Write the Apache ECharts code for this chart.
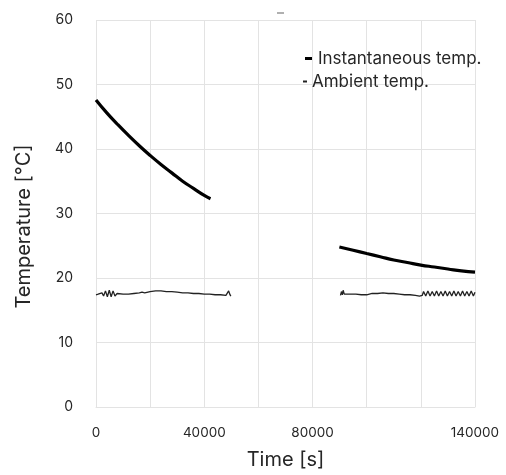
<!DOCTYPE html>
<html>
<head>
<meta charset="utf-8">
<script src="https://cdn.jsdelivr.net/npm/echarts@6/dist/echarts.min.js"></script>
<style>html,body{margin:0;padding:0;background:#fff}#c{width:506px;height:475px}</style>
</head>
<body>
<div id="c"></div>
<script>
// Instantaneous temperature, first cooling segment
var instTime1 = [0, 4000, 8000, 12000, 16000, 20000, 24000, 28000, 32000, 36000, 40000, 42300];
var instTemp1 = [47.6, 45.6, 43.8, 42.1, 40.5, 39.0, 37.6, 36.3, 35.0, 33.9, 32.8, 32.3];
// Instantaneous temperature, second segment
var instTime2 = [89900, 95000, 100000, 105000, 110000, 115000, 120000, 125000, 130000, 135000, 140000];
var instTemp2 = [24.8, 24.3, 23.8, 23.3, 22.8, 22.4, 22.0, 21.7, 21.4, 21.1, 20.9];
// Ambient temperature, first segment
var ambTime1 = [0, 800, 1500, 2200, 2800, 3500, 4200, 4900, 5600, 6300, 7000, 7800, 8500, 10000, 12000, 14000, 16000, 17000, 18000, 20000, 22000, 24000, 26000, 28000, 30000, 32000, 34000, 36000, 38000, 40000, 42000, 44000, 46000, 48000, 48600, 49000, 49400, 49800];
var ambTemp1 = [17.4, 17.5, 17.2, 17.7, 17.2, 18.0, 17.1, 18.1, 17.1, 18.0, 17.2, 17.6, 17.4, 17.5, 17.5, 17.6, 17.7, 17.8, 17.7, 17.9, 18.0, 18.0, 17.9, 17.9, 17.8, 17.7, 17.7, 17.6, 17.6, 17.5, 17.5, 17.4, 17.4, 17.3, 17.4, 18.0, 17.5, 17.2];
// Ambient temperature, second segment
var ambTime2 = [90300, 90700, 91000, 91300, 91700, 92300, 94000, 96000, 98000, 100000, 102000, 104000, 106000, 108000, 110000, 112000, 114000, 116000, 118000, 119500, 120500, 121000, 121800, 122600, 123400, 124200, 125000, 125800, 126600, 127400, 128200, 129000, 129800, 130600, 131400, 132200, 133000, 133800, 134600, 135400, 136200, 137000, 137800, 138600, 139400, 140000];
var ambTemp2 = [17.3, 17.9, 17.4, 18.1, 17.5, 17.6, 17.5, 17.5, 17.4, 17.4, 17.6, 17.6, 17.7, 17.6, 17.6, 17.5, 17.4, 17.4, 17.3, 17.2, 17.3, 17.9, 17.2, 18.0, 17.2, 17.9, 17.2, 18.0, 17.2, 17.9, 17.2, 18.0, 17.2, 17.9, 17.2, 18.0, 17.2, 17.9, 17.2, 18.0, 17.2, 17.9, 17.2, 18.0, 17.2, 17.8];
var xTickLabels = [0, 40000, 80000, 140000];
var seriesNames = ['Instantaneous temp.', 'Ambient temp.'];

function pairs(t, v) { return t.map(function (x, i) { return [x, v[i]]; }); }

var FONT = 'Inter, "Noto Sans", sans-serif';
var TXT = '#262626';
var chart = echarts.init(document.getElementById('c'), null, { renderer: 'canvas' });
chart.setOption({
  animation: false,
  backgroundColor: '#fff',
  textStyle: { fontFamily: FONT },
  grid: { left: 96, right: 31, top: 20, bottom: 65 },
  legend: [
    { data: [seriesNames[0]], left: 300, top: 45, icon: 'rect', itemWidth: 7, itemHeight: 3,
      textStyle: { fontFamily: FONT, fontSize: 17, color: TXT, padding: [0, 0, 0, 1] } },
    { data: [seriesNames[1]], left: 298, top: 68, icon: 'rect', itemWidth: 4, itemHeight: 2,
      textStyle: { fontFamily: FONT, fontSize: 17, color: TXT } }
  ],
  xAxis: {
    type: 'value', min: 0, max: 140000, interval: 20000,
    name: 'Time [s]', nameLocation: 'middle', nameGap: 43,
    nameTextStyle: { fontFamily: FONT, fontSize: 20, color: TXT },
    axisLine: { show: true, lineStyle: { color: '#e3e3e3' } },
    axisTick: { show: false },
    splitLine: { show: true, lineStyle: { color: '#e3e3e3', width: 1 } },
    axisLabel: {
      fontFamily: FONT, fontSize: 13.5, color: TXT, margin: 19,
      formatter: function (v) { return xTickLabels.indexOf(v) >= 0 ? String(v) : ''; }
    }
  },
  yAxis: {
    type: 'value', min: 0, max: 60, interval: 10,
    name: 'Temperature [°C]', nameLocation: 'middle', nameGap: 62,
    nameTextStyle: { fontFamily: FONT, fontSize: 20, color: TXT, padding: [0, 26, 0, 0] },
    axisLine: { show: false },
    axisTick: { show: false },
    splitLine: { show: true, lineStyle: { color: '#e3e3e3', width: 1 } },
    axisLabel: { fontFamily: FONT, fontSize: 14, color: TXT, margin: 23 }
  },
  graphic: [
    { type: 'rect', shape: { x: 277, y: 12, width: 7, height: 2 }, style: { fill: '#b0b0b0' } }
  ],
  series: [
    { name: seriesNames[0], type: 'line', data: pairs(instTime1, instTemp1), smooth: true, symbol: 'none',
      lineStyle: { color: '#000', width: 3.2 }, itemStyle: { color: '#000' } },
    { name: seriesNames[0], type: 'line', data: pairs(instTime2, instTemp2), smooth: true, symbol: 'none',
      lineStyle: { color: '#000', width: 3.2 }, itemStyle: { color: '#000' } },
    { name: seriesNames[1], type: 'line', data: pairs(ambTime1, ambTemp1), symbol: 'none',
      lineStyle: { color: '#222', width: 1.3 }, itemStyle: { color: '#222' } },
    { name: seriesNames[1], type: 'line', data: pairs(ambTime2, ambTemp2), symbol: 'none',
      lineStyle: { color: '#222', width: 1.3 }, itemStyle: { color: '#222' } }
  ]
});
</script>
</body>
</html>
